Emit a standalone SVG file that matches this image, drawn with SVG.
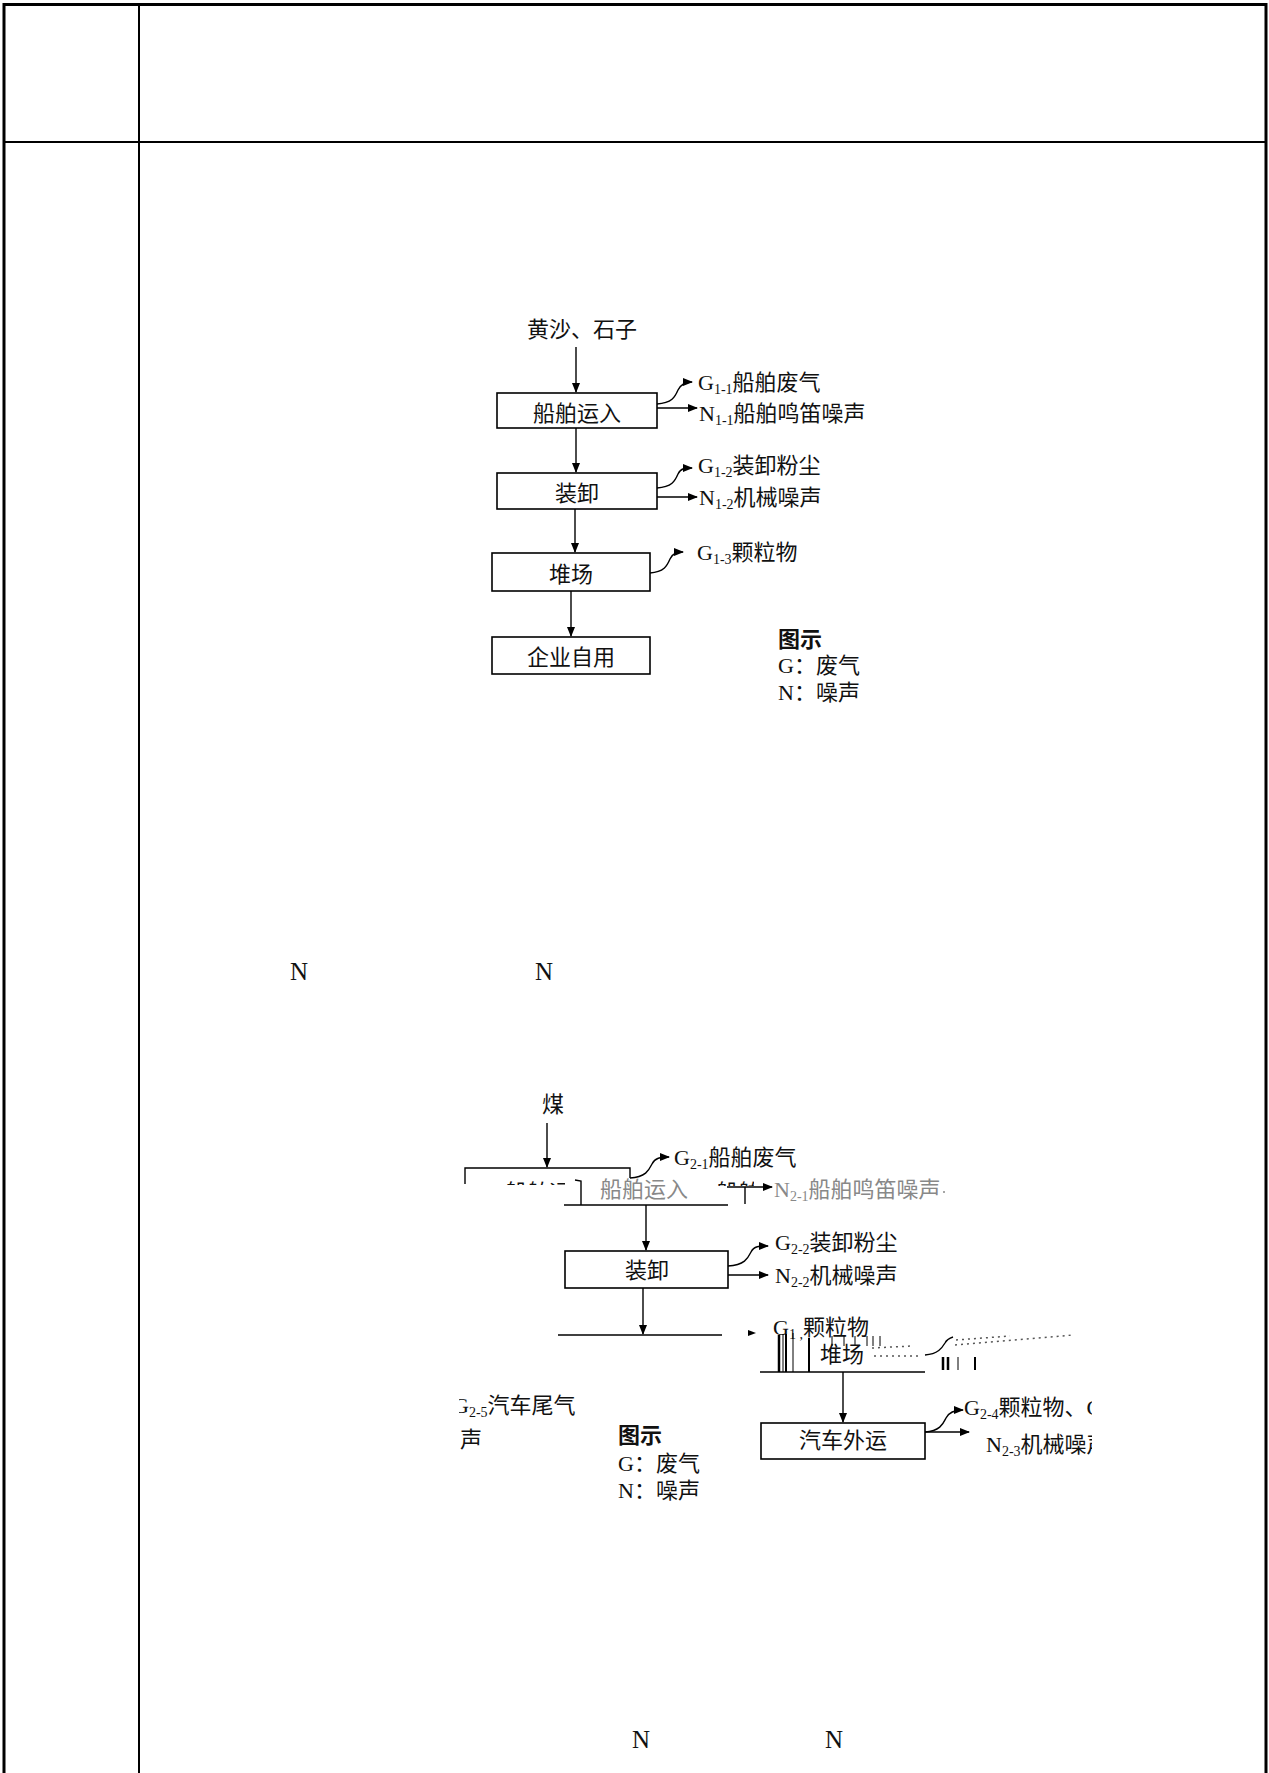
<svg xmlns="http://www.w3.org/2000/svg" width="1269" height="1773" viewBox="0 0 1269 1773">
<style>
text{font-family:'Liberation Serif','Noto Sans CJK SC',serif;font-size:22px;fill:#111}
.c{text-anchor:middle}
.sub{font-size:14px}
.box{fill:#fff;stroke:#000;stroke-width:1.6}
.ln{fill:none;stroke:#000;stroke-width:1.4}
.fr{fill:none;stroke:#000}
.leg{font-family:'Noto Sans CJK SC',sans-serif;font-weight:bold}
.N{font-size:25px}
.gr{fill:#888}
.bar{stroke:#000;fill:none}
.dash{stroke:#555;stroke-width:1.5;stroke-dasharray:2 4;fill:none}
</style>
<defs>
<marker id="ah" markerWidth="10" markerHeight="8" refX="9" refY="4" orient="auto" markerUnits="userSpaceOnUse"><path d="M0,0 L10,4 L0,8 z" fill="#000"/></marker>
<clipPath id="cl1"><rect x="495" y="1176" width="70" height="9"/></clipPath>
<clipPath id="cl2"><rect x="712" y="1178" width="42" height="8"/></clipPath>
<clipPath id="cl3"><rect x="459" y="1380" width="200" height="80"/></clipPath>
<clipPath id="cl4"><rect x="900" y="1390" width="192" height="80"/></clipPath>
</defs>
<g id="frame">
<line class="fr" x1="4" y1="3" x2="4" y2="1773" stroke-width="3"/>
<line class="fr" x1="3" y1="4.5" x2="1267" y2="4.5" stroke-width="3"/>
<line class="fr" x1="1266" y1="3" x2="1266" y2="1773" stroke-width="3"/>
<line class="fr" x1="139" y1="4" x2="139" y2="1773" stroke-width="2"/>
<line class="fr" x1="4" y1="142" x2="1266" y2="142" stroke-width="2"/>
</g>
<g id="connectors">
<line class="ln" x1="576" y1="347" x2="576" y2="392" marker-end="url(#ah)"/>
<path class="ln" d="M657,404 C672,403 675,397 678,390 C681,384 685,382 692,382" marker-end="url(#ah)"/>
<line class="ln" x1="657" y1="408" x2="697" y2="408" marker-end="url(#ah)"/>
<line class="ln" x1="576" y1="428" x2="576" y2="472" marker-end="url(#ah)"/>
<path class="ln" d="M657,488 C672,487 675,481 678,474 C681,468 685,468 692,468" marker-end="url(#ah)"/>
<line class="ln" x1="657" y1="497" x2="697" y2="497" marker-end="url(#ah)"/>
<line class="ln" x1="575" y1="509" x2="575" y2="552" marker-end="url(#ah)"/>
<path class="ln" d="M650,573 C664,572 667,566 670,559 C673,553 677,552 683,552" marker-end="url(#ah)"/>
<line class="ln" x1="571" y1="591" x2="571" y2="636" marker-end="url(#ah)"/>

<line class="ln" x1="547" y1="1123" x2="547" y2="1167" marker-end="url(#ah)"/>
<path class="ln" d="M630,1178 C646,1177 649,1170 652,1164 C655,1158 660,1157 669,1157" marker-end="url(#ah)"/>
<line class="ln" x1="727" y1="1187" x2="772" y2="1187" marker-end="url(#ah)"/>
<line class="ln" x1="646" y1="1205" x2="646" y2="1250" marker-end="url(#ah)"/>
<path class="ln" d="M728,1266 C745,1265 748,1258 751,1252 C754,1246 759,1246 768,1246" marker-end="url(#ah)"/>
<line class="ln" x1="728" y1="1275" x2="768" y2="1275" marker-end="url(#ah)"/>
<line class="ln" x1="643" y1="1288" x2="643" y2="1334" marker-end="url(#ah)"/>
<path d="M748,1330 L756,1333 L748,1336 z" fill="#000"/>
<line class="ln" x1="843" y1="1372" x2="843" y2="1422" marker-end="url(#ah)"/>
<path class="ln" d="M925,1432 C940,1431 943,1424 946,1418 C949,1412 954,1410 963,1410" marker-end="url(#ah)"/>
<line class="ln" x1="925" y1="1432" x2="969" y2="1432" marker-end="url(#ah)"/>
<path class="ln" d="M925,1355 C938,1354 942,1348 945,1343 C947,1339 950,1338 953,1337"/>
</g>
<g id="n-input1"><text class="c" x="582" y="337">黄沙、石子</text></g>
<g id="n-ship1"><rect class="box" x="497" y="393" width="160" height="35"/><text class="c" x="577" y="421">船舶运入</text></g>
<g id="n-g11"><text x="698" y="390">G<tspan class="sub" dy="4">1-1</tspan><tspan dy="-4">船舶废气</tspan></text></g>
<g id="n-n11"><text x="699" y="421">N<tspan class="sub" dy="4">1-1</tspan><tspan dy="-4">船舶鸣笛噪声</tspan></text></g>
<g id="n-load1"><rect class="box" x="497" y="473" width="160" height="36"/><text class="c" x="577" y="501">装卸</text></g>
<g id="n-g12"><text x="698" y="473">G<tspan class="sub" dy="4">1-2</tspan><tspan dy="-4">装卸粉尘</tspan></text></g>
<g id="n-n12"><text x="699" y="505">N<tspan class="sub" dy="4">1-2</tspan><tspan dy="-4">机械噪声</tspan></text></g>
<g id="n-yard1"><rect class="box" x="492" y="553" width="158" height="38"/><text class="c" x="571" y="582">堆场</text></g>
<g id="n-g13"><text x="697" y="560">G<tspan class="sub" dy="4">1-3</tspan><tspan dy="-4">颗粒物</tspan></text></g>
<g id="n-use1"><rect class="box" x="492" y="637" width="158" height="37"/><text class="c" x="571" y="665">企业自用</text></g>
<g id="n-legend1"><text class="leg" x="778" y="647">图示</text><text x="778" y="673">G：废气</text><text x="778" y="700">N：噪声</text></g>
<g id="n-letters"><text class="N" x="290" y="980">N</text><text class="N" x="535" y="980">N</text><text class="N" x="632" y="1748">N</text><text class="N" x="825" y="1748">N</text></g>

<g id="n-input2"><text class="c" x="553" y="1112">煤</text></g>
<g id="n-ship2">
<path class="ln" d="M465,1184 L465,1168 L630,1168 L630,1178"/>
<text x="505" y="1200" clip-path="url(#cl1)">船舶运</text>
<path class="ln" d="M575,1180 L581,1181 L581,1205"/>
<text class="gr" x="600" y="1197">船舶运入</text>
<line class="ln" x1="564" y1="1205" x2="728" y2="1205"/>
<line class="ln" x1="745" y1="1187" x2="745" y2="1204"/>
<text x="716" y="1200" clip-path="url(#cl2)">船舶</text>
</g>
<g id="n-g21"><text x="674" y="1165">G<tspan class="sub" dy="4">2-1</tspan><tspan dy="-4">船舶废气</tspan></text></g>
<g id="n-n21"><text class="gr" x="774" y="1197">N<tspan class="sub" dy="4">2-1</tspan><tspan dy="-4">船舶鸣笛噪声</tspan></text><circle cx="944" cy="1192" r="1" fill="#888"/></g>
<g id="n-load2"><rect class="box" x="565" y="1251" width="163" height="37"/><text class="c" x="647" y="1278">装卸</text></g>
<g id="n-g22"><text x="775" y="1250">G<tspan class="sub" dy="4">2-2</tspan><tspan dy="-4">装卸粉尘</tspan></text></g>
<g id="n-n22"><text x="775" y="1283">N<tspan class="sub" dy="4">2-2</tspan><tspan dy="-4">机械噪声</tspan></text></g>
<g id="n-yard2">
<line class="ln" x1="558" y1="1335" x2="722" y2="1335"/>
<text x="773" y="1335">G<tspan class="sub" dy="4">1 ,</tspan><tspan dy="-4">颗粒物</tspan></text>
<path class="bar" stroke-width="2.5" d="M779,1372 L779,1335"/>
<path class="bar" stroke-width="1" d="M783,1372 L783,1334"/>
<path class="bar" stroke-width="2" d="M786,1372 L786,1334"/>
<path class="bar" stroke-width="1" d="M793,1372 L793,1333"/>
<path class="bar" stroke-width="2" d="M809,1372 L809,1338"/>
<path class="bar" stroke="#aaa" stroke-width="1" d="M832,1336 v10 M844,1336 v10 M855,1336 v10 M867,1336 v10 M873,1336 v10 M880,1336 v10"/>
<text x="820" y="1362">堆场</text>
<path class="dash" d="M872,1348 L912,1346 M874,1356 L920,1356"/>
<line class="ln" x1="760" y1="1372" x2="925" y2="1372"/>
<path class="dash" stroke="#999" d="M955,1345 L1073,1335 M956,1340 L1010,1336"/>
<path class="bar" stroke-width="2.5" d="M943,1357 v13 M948,1357 v13"/>
<path class="bar" stroke-width="1" d="M958,1357 v13"/>
<path class="bar" stroke-width="2" d="M975,1357 v13"/>
</g>
<g id="n-truck"><rect class="box" x="761" y="1423" width="164" height="36"/><text class="c" x="843" y="1448">汽车外运</text></g>
<g id="n-g24"><text x="964" y="1415" clip-path="url(#cl4)">G<tspan class="sub" dy="4">2-4</tspan><tspan dy="-4">颗粒物、CO</tspan></text></g>
<g id="n-n23"><text x="986" y="1452" clip-path="url(#cl4)">N<tspan class="sub" dy="4">2-3</tspan><tspan dy="-4">机械噪声</tspan></text></g>
<g id="n-g25"><text x="453" y="1413" clip-path="url(#cl3)">G<tspan class="sub" dy="4">2-5</tspan><tspan dy="-4">汽车尾气</tspan></text><text x="460" y="1447">声</text></g>
<g id="n-legend2"><text class="leg" x="618" y="1443">图示</text><text x="618" y="1471">G：废气</text><text x="618" y="1498">N：噪声</text></g>
</svg>
